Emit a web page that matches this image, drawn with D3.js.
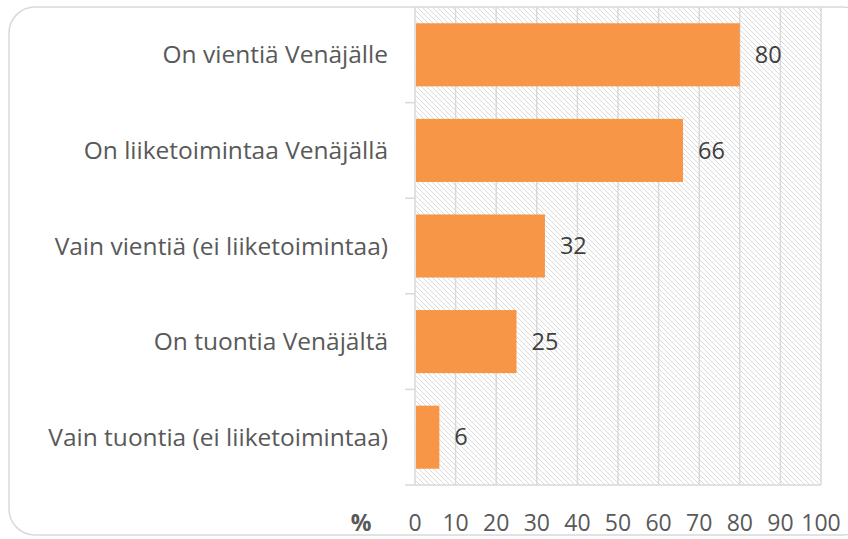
<!DOCTYPE html>
<html>
<head>
<meta charset="utf-8">
<script src="https://cdn.jsdelivr.net/npm/d3@7"></script>
<style>
body { margin:0; background:#fff; }
text { font-family: "Open Sans", sans-serif; }
</style>
</head>
<body>
<svg id="view"></svg>
<script>
var categories = ["On vientiä Venäjälle", "On liiketoimintaa Venäjällä", "Vain vientiä (ei liiketoimintaa)", "On tuontia Venäjältä", "Vain tuontia (ei liiketoimintaa)"];
var values = [80, 66, 32, 25, 6];
var ticks = [0, 10, 20, 30, 40, 50, 60, 70, 80, 90, 100];

var width = 848, height = 539;
var svg = d3.select("#view").attr("width", width).attr("height", height);

// chart frame
svg.append("rect")
	.attr("x", 9).attr("y", 7)
	.attr("width", 860).attr("height", 528)
	.attr("rx", 26)
	.attr("fill", "#fff")
	.attr("stroke", "#d9d9d9").attr("stroke-width", 1.5);

var defs = svg.append("defs");
var pat = defs.append("pattern")
	.attr("id", "hatch")
	.attr("patternUnits", "userSpaceOnUse")
	.attr("width", 5).attr("height", 5);
pat.append("path")
	.attr("d", "M-1,-1 L6,6 M-1,4 L1,6 M4,-1 L6,1")
	.attr("stroke", "#d6d6d6").attr("stroke-width", 0.9);

var x = d3.scaleLinear().domain([0, 100]).range([415, 821]);
var y = d3.scaleBand().domain(categories).range([7, 485]).paddingInner(0.34).paddingOuter(0.17);

// plot area
svg.append("rect")
	.attr("x", x(0)).attr("y", 7)
	.attr("width", x(100) - x(0)).attr("height", 485 - 7)
	.attr("fill", "url(#hatch)");

svg.append("g").selectAll("line")
	.data(ticks)
	.join("line")
	.attr("x1", d => x(d)).attr("x2", d => x(d))
	.attr("y1", 7).attr("y2", 485)
	.attr("stroke", "#d9d9d9").attr("stroke-width", 1.5);

// category tick marks and bottom line
var step = (485 - 7) / categories.length;
svg.append("g").selectAll("line")
	.data(d3.range(1, categories.length))
	.join("line")
	.attr("x1", 405).attr("x2", x(0))
	.attr("y1", d => 7 + d * step).attr("y2", d => 7 + d * step)
	.attr("stroke", "#d9d9d9").attr("stroke-width", 1.5);
svg.append("line")
	.attr("x1", 405).attr("x2", x(100))
	.attr("y1", 485).attr("y2", 485)
	.attr("stroke", "#d9d9d9").attr("stroke-width", 1.5);

// bars
svg.append("g").selectAll("rect")
	.data(values)
	.join("rect")
	.attr("x", x(0) + 1)
	.attr("y", (d, i) => y(categories[i]))
	.attr("width", d => x(d) - x(0) - 1)
	.attr("height", y.bandwidth())
	.attr("fill", "#f79646");

svg.append("g").selectAll("text")
	.data(values)
	.join("text")
	.attr("x", d => x(d) + 15)
	.attr("y", (d, i) => y(categories[i]) + y.bandwidth() / 2)
	.attr("dy", "0.35em")
	.attr("font-size", 23.5)
	.attr("fill", "#404040")
	.text(d => d);

// category labels
svg.append("g").selectAll("text")
	.data(categories)
	.join("text")
	.attr("x", 388)
	.attr("y", d => y(d) + y.bandwidth() / 2)
	.attr("dy", "0.35em")
	.attr("text-anchor", "end")
	.attr("font-size", 24.5)
	.attr("fill", "#595959")
	.text(d => d);

// x tick labels
svg.append("g").selectAll("text")
	.data(ticks)
	.join("text")
	.attr("x", d => x(d))
	.attr("y", 531)
	.attr("text-anchor", "middle")
	.attr("font-size", 23)
	.attr("fill", "#595959")
	.text(d => d);

svg.append("text")
	.attr("x", 361).attr("y", 531)
	.attr("text-anchor", "middle")
	.attr("font-size", 23)
	.attr("font-weight", "bold")
	.attr("fill", "#595959")
	.text("%");
</script>
</body>
</html>
